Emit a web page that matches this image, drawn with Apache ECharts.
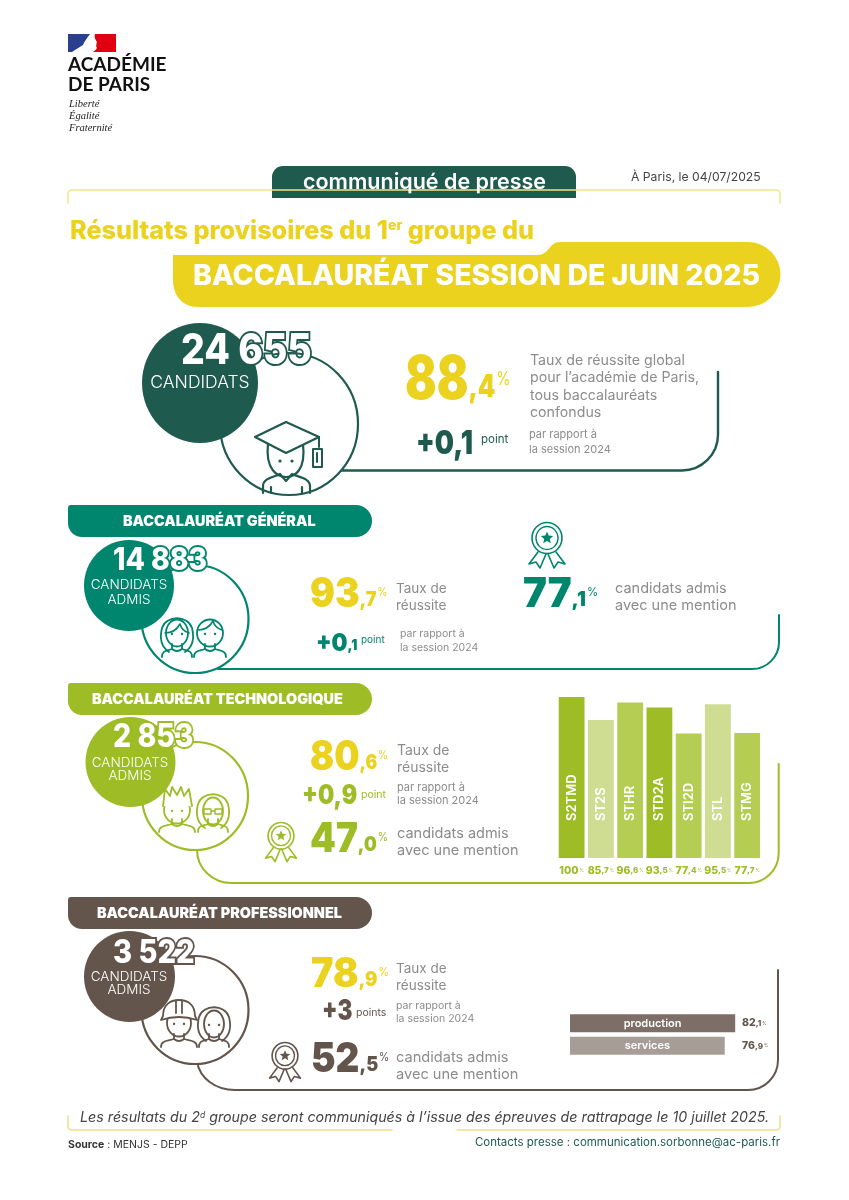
<!DOCTYPE html>
<html>
<head>
<meta charset="utf-8">
<title>Baccalauréat session de juin 2025</title>
<script src="https://cdn.jsdelivr.net/npm/echarts@6/dist/echarts.min.js"></script>
<style>
  html, body { margin: 0; padding: 0; background: #fff; }
  #main { width: 849px; height: 1200px; }
</style>
</head>
<body>
<div id="main"></div>
<script>
// series technologiques
var techNames = ['S2TMD', 'ST2S', 'STHR', 'STD2A', 'STI2D', 'STL', 'STMG'];
var techRates = [100, 85.7, 96.6, 93.5, 77.4, 95.5, 77.7];
var techColors = ['#9dbc25', '#cfdd92', '#b5cd52', '#9dbc25', '#b5cd52', '#cfdd92', '#b5cd52'];
// voie professionnelle
var proNames = ['production', 'services'];
var proRates = [82.1, 76.9];
var proColors = ['#7d6f67', '#a79d97'];
// chiffres cles
var totalCandidats = '24 655', totalRate = ['88', ',4'], totalDiff = '+0,1';
var genCandidats = '14 883', genRate = ['93', ',7'], genDiff = ['+0', ',1'], genMention = ['77', ',1'];
var techCandidats = '2 853', techRate = ['80', ',6'], techDiff = '+0,9', techMention = ['47', ',0'];
var proCandidats = '3 522', proRate = ['78', ',9'], proDiff = '+3', proMention = ['52', ',5'];

var DARK = '#1f5a4e', TEAL = '#00856f', LIME = '#9dbc25', BROWN = '#63554c', YELLOW = '#ebd21f', GREY = '#8c8c8c';
var FONT = 'Inter', LOGO = 'Lato';

var els = [];
var pathCount = 0;

function T(x, y, text, size, color, weight, o) {
    o = o || {};
    var el = {
        type: 'text', x: x, y: y, z: o.z || 10,
        style: {
            text: text, fontFamily: o.font || FONT, fontSize: size, fontWeight: weight || 400,
            fontStyle: o.italic ? 'italic' : 'normal', fill: color,
            align: o.align || 'left', verticalAlign: 'middle',
            stroke: o.stroke, lineWidth: o.lw || 0, rich: o.rich
        }
    };
    if (o.sx) { el.scaleX = o.sx; }
    els.push(el);
}

// svg path -> graphic element
function P(d, stroke, lw, fill, z) {
    var name = 'p' + (pathCount++);
    echarts.graphic.registerShape(name, echarts.graphic.extendPath(d, {}));
    els.push({
        type: name, z: z || 5,
        style: { fill: fill || 'none', stroke: stroke || 'none', lineWidth: lw || 0, lineCap: 'round', lineJoin: 'round' }
    });
}

function E(cx, cy, rx, ry, fill, stroke, lw, z) {
    els.push({
        type: 'ellipse', z: z || 2, shape: { cx: cx, cy: cy, rx: rx, ry: ry },
        style: { fill: fill || 'none', stroke: stroke || 'none', lineWidth: lw || 0 }
    });
}

function R(x, y, w, h, r, fill, z) {
    els.push({ type: 'rect', z: z || 3, shape: { x: x, y: y, width: w, height: h, r: r }, style: { fill: fill } });
}

// grand pourcentage : entier, decimale, signe
function rate(x, y, parts, size, color, ds, sx) {
    T(x, y, '{i|' + parts[0] + '}{d|' + parts[1] + '}{p|%}', size, color, 900, {
        sx: sx,
        rich: {
            i: { fontFamily: FONT, fontSize: size, fontWeight: 900, color: color },
            d: { fontFamily: FONT, fontSize: ds, fontWeight: 900, color: color, padding: [0, 1, (size - ds) * 0.27, 0], verticalAlign: 'bottom' },
            p: { fontFamily: FONT, fontSize: ds * 0.58, fontWeight: 400, color: color, verticalAlign: 'middle', padding: [0, 0, 4, 0] }
        }
    });
}

function star(cx, cy, r) {
    var d = '';
    for (var i = 0; i < 10; i++) {
        var a = -Math.PI / 2 + i * Math.PI / 5, q = i % 2 ? r * 0.45 : r;
        d += (i ? 'L' : 'M') + (cx + q * Math.cos(a)).toFixed(1) + ' ' + (cy + q * Math.sin(a)).toFixed(1);
    }
    return d + 'Z';
}

function ribbon(cx, top, s, color) {
    var cy = top + 16 * s;
    E(cx, cy, 15 * s, 15.5 * s, null, color, 1.6, 5);
    E(cx, cy, 11 * s, 11.5 * s, null, color, 1.4, 5);
    P(star(cx, cy, 6.5 * s), null, 0, color);
    var x = function (v) { return cx + v * s; }, y = function (v) { return top + v * s; };
    P('M' + x(-9) + ' ' + y(30) + 'L' + x(-18) + ' ' + y(42) + 'L' + x(-11) + ' ' + y(40) + 'L' + x(-7) + ' ' + y(46) + 'L' + x(-1) + ' ' + y(32)
        + 'M' + x(9) + ' ' + y(30) + 'L' + x(18) + ' ' + y(42) + 'L' + x(11) + ' ' + y(40) + 'L' + x(7) + ' ' + y(46) + 'L' + x(1) + ' ' + y(32), color, 1.6);
}

// buste commun a tous les personnages
function bust(cx, top, color, w) {
    var y = top + 27, b = top + 40;
    P('M' + (cx - 5) + ' ' + y + 'V' + (y + 5) + 'C' + (cx - 10) + ' ' + (y + 7) + ' ' + (cx - w) + ' ' + (y + 6) + ' ' + (cx - w) + ' ' + b
        + 'M' + (cx + 5) + ' ' + y + 'V' + (y + 5) + 'C' + (cx + 10) + ' ' + (y + 7) + ' ' + (cx + w) + ' ' + (y + 6) + ' ' + (cx + w) + ' ' + b
        + 'M' + (cx - 5) + ' ' + (y + 5) + 'Q' + cx + ' ' + (y + 9) + ' ' + (cx + 5) + ' ' + (y + 5), color, 1.8);
}

function face(cx, top, color, rx, eyes) {
    E(cx, top + 16, rx, 13.5, null, color, 1.8, 5);
    if (eyes) {
        E(cx - 5, top + 17, 1.2, 1.2, color, null, 0, 5);
        E(cx + 5, top + 17, 1.2, 1.2, color, null, 0, 5);
    }
}

function longHair(cx, top, color) {
    P('M' + (cx - 8) + ' ' + (top + 34) + 'C' + (cx - 17) + ' ' + (top + 28) + ' ' + (cx - 17) + ' ' + (top + 18) + ' ' + (cx - 15) + ' ' + (top + 10)
        + 'C' + (cx - 11) + ' ' + (top - 3) + ' ' + (cx + 11) + ' ' + (top - 3) + ' ' + (cx + 15) + ' ' + (top + 10)
        + 'C' + (cx + 17) + ' ' + (top + 18) + ' ' + (cx + 17) + ' ' + (top + 28) + ' ' + (cx + 8) + ' ' + (top + 34), color, 1.8);
}

function P2(cx, top, color) { // frange
    P('M' + (cx - 12) + ' ' + (top + 12) + 'Q' + (cx - 2) + ' ' + (top + 12) + ' ' + (cx + 3) + ' ' + (top + 3) + 'Q' + (cx + 5) + ' ' + (top + 10) + ' ' + (cx + 12) + ' ' + (top + 12), color, 1.6);
}

function frame(d, color, lw) { P(d, color, lw, null, 1); }

function header(y, text, color, x) {
    R(68, y, 304, 32, [3, 16, 16, 14], color);
    T(x, y + 16.5, text, 14.4, '#fff', 900);
}

function bubble(cx, cy, rx, ry, ocx, ocy, orx, ory, color, num, numX, numY, numSize, sx) {
    E(cx, cy, rx, ry, color, null, 0, 3);
    E(ocx, ocy, orx, ory, '#fff', color, 2.2, 2);
    T(numX, numY, num, numSize, '#fff', 800, { stroke: color, lw: 4, z: 12, sx: sx });
}

function small(x, y, lines, size, gap, color) {
    lines.forEach(function (l, i) { T(x, y + i * gap, l, size, color || GREY, 400); });
}

// ---- entete
P('M68 34H90C87 38 84 42 83 45C80 47 76 49 72 52H68Z', null, 0, '#2a3f8f');
P('M95 34H116V52H93C96 50 98 48 96 46C97 44 96 43 97 42C95 39 94 37 95 34Z', null, 0, '#e1000f');
T(68, 65, 'ACADÉMIE', 19, '#111', 700, { font: LOGO });
T(68, 85, 'DE PARIS', 19, '#111', 700, { font: LOGO });
['Liberté', 'Égalité', 'Fraternité'].forEach(function (l, i) {
    T(69, 104 + i * 12, l, 10.5, '#222', 400, { font: 'Liberation Serif', italic: true });
});
P('M68 203V194Q68 190 72 190H776Q780 190 780 194V203', '#f3e48f', 1.5);
R(272, 166, 304, 32, [11, 11, 0, 0], DARK);
T(303, 182.5, 'communiqué de presse', 21.5, '#fff', 600);
T(631, 177, 'À Paris, le 04/07/2025', 12.2, '#444', 400);
T(70, 231, 'Résultats provisoires du 1{s|er} groupe du', 25.2, YELLOW, 800, {
    rich: { s: { fontFamily: FONT, fontSize: 14, fontWeight: 800, color: YELLOW, verticalAlign: 'top' } }
});
P('M173 255H538C549 255 549 242 560 242H748A32.5 32.5 0 0 1 748 307H198C182 307 173 295 173 280Z', null, 0, YELLOW);
T(193, 276, 'BACCALAURÉAT SESSION DE JUIN 2025', 28.5, '#fff', 800);

// ---- ensemble
frame('M341 470.5H682A36 36 0 0 0 718 434.5V372', DARK, 2.4);
bubble(200, 383, 58, 60, 289, 424, 69, 71, DARK, totalCandidats, 181, 351, 42, 0.89);
T(200, 383, 'CANDIDATS', 17.5, '#fff', 300, { align: 'center', z: 13 });
P('M255 437L286 422L319 437L286 453Z', DARK, 2.2, '#fff', 6);
P('M268 444C265 470 278 477 286 477C295 477 306 470 303 444', DARK, 2.2);
P('M319 437V447M313 449H322V467H313ZM317 453V462', DARK, 2);
E(280, 461, 1.6, 1.6, DARK, null, 0, 6);
E(292, 461, 1.6, 1.6, DARK, null, 0, 6);
P('M263 493V486C263 478 275 477 280 474L286 481L292 474C298 477 310 478 310 486V493M271 493V487M302 493V487', DARK, 2.2);
rate(405, 381, totalRate, 60, YELLOW, 32, 0.78);
small(530, 360.5, ['Taux de réussite global', 'pour l\u2019académie de Paris,', 'tous baccalauréats', 'confondus'], 14.2, 17.4);
T(416, 444, totalDiff, 33, DARK, 900, { sx: 0.82 });
T(481, 440, 'point', 11.5, DARK, 400);
small(529, 434.5, ['par rapport à', 'la session 2024'], 11, 15);

// ---- general
header(505, 'BACCALAURÉAT GÉNÉRAL', TEAL, 123);
frame('M218 669H752A27 27 0 0 0 779 642V615', TEAL, 2);
bubble(129, 585.5, 45, 45.5, 195, 619, 53.5, 54, TEAL, genCandidats, 113, 561, 31, 0.91);
T(129, 585, 'CANDIDATS', 13.5, '#fff', 300, { align: 'center', z: 13 });
T(129, 600, 'ADMIS', 13.5, '#fff', 300, { align: 'center', z: 13 });
longHair(177, 618, TEAL); face(177, 617, TEAL, 11, true); bust(177, 617, TEAL, 15);
P2(177, 621, TEAL);
face(210, 617, TEAL, 13, true); bust(210, 617, TEAL, 16); P2(210, 618, TEAL);
rate(310, 595, genRate, 41, YELLOW, 20, 0.9);
small(396, 588.5, ['Taux de', 'réussite'], 13.5, 17);
ribbon(547, 522, 1, TEAL);
rate(523, 595, genMention, 41, TEAL, 20, 0.98);
small(615, 588.5, ['candidats admis', 'avec une mention'], 14.5, 17);
T(316, 643, '{i|' + genDiff[0] + '}{d|' + genDiff[1] + '}', 25, TEAL, 900, {
    sx: 0.9,
    rich: {
        i: { fontFamily: FONT, fontSize: 25, fontWeight: 900, color: TEAL },
        d: { fontFamily: FONT, fontSize: 15, fontWeight: 900, color: TEAL, verticalAlign: 'bottom', padding: [0, 0, 3, 0] }
    }
});
T(361, 640, 'point', 10, TEAL, 400);
small(400, 633.5, ['par rapport à', 'la session 2024'], 10.5, 14);

// ---- technologique
header(683, 'BACCALAURÉAT TECHNOLOGIQUE', LIME, 92);
frame('M197 850C197 868 212 883 232 883H748A30 30 0 0 0 778.7 853V764', LIME, 2);
bubble(130.5, 762, 45, 45, 195, 796, 53, 54, LIME, techCandidats, 113, 737, 32, 0.89);
T(130, 763, 'CANDIDATS', 13.5, '#fff', 300, { align: 'center', z: 13 });
T(130, 776, 'ADMIS', 13.5, '#fff', 300, { align: 'center', z: 13 });
P('M163 806L165 789L170 796L172 787L177 795L181 787L184 796L189 789L192 806', LIME, 1.8, '#fff', 6);
face(177, 794, LIME, 13, true); bust(177, 792, LIME, 18);
longHair(213, 794, LIME); face(213, 795, LIME, 10, false); bust(213, 792, LIME, 15);
P('M204 809H211V814H204ZM215 809H222V814H215ZM211 811H215', LIME, 1.4);
rate(310, 758, techRate, 41, YELLOW, 20, 0.87);
small(397, 750.5, ['Taux de', 'réussite'], 14, 17);
T(302, 796, techDiff, 27, LIME, 900, { sx: 0.85 });
T(361, 795, 'point', 10.5, LIME, 400);
small(397, 787.5, ['par rapport à', 'la session 2024'], 11, 13.5);
ribbon(281, 822, 0.86, LIME);
rate(310, 840, techMention, 41, LIME, 20, 0.9);
small(397, 833.5, ['candidats admis', 'avec une mention'], 14.5, 17);

// ---- professionnel
header(897, 'BACCALAURÉAT PROFESSIONNEL', BROWN, 97);
frame('M197 1062C200 1078 215 1090 235 1090H748A30 30 0 0 0 778 1060V970', BROWN, 2);
bubble(129.5, 976.5, 45.5, 45.5, 195, 1010, 53.5, 54, BROWN, proCandidats, 113, 953, 32, 0.91);
T(129, 977, 'CANDIDATS', 13.5, '#fff', 300, { align: 'center', z: 13 });
T(129, 990, 'ADMIS', 13.5, '#fff', 300, { align: 'center', z: 13 });
face(179, 1007, BROWN, 12, true); bust(179, 1007, BROWN, 18);
P('M161 1020Q179 1014 197 1020L195 1016C195 1005 188 1000 179 1000C170 1000 163 1005 163 1016ZM176 1000V1013M182 1000V1013', BROWN, 1.8, '#fff', 6);
longHair(214, 1007, BROWN); face(214, 1008, BROWN, 10, true); bust(214, 1007, BROWN, 15);
rate(311, 975, proRate, 41, YELLOW, 20, 0.92);
small(396, 968.5, ['Taux de', 'réussite'], 13.5, 17);
T(322, 1012, proDiff, 28, BROWN, 900, { sx: 0.8 });
T(356, 1013, 'points', 10.5, BROWN, 400);
small(396, 1005.5, ['par rapport à', 'la session 2024'], 10.5, 13.5);
ribbon(285, 1042, 0.86, BROWN);
rate(311, 1060, proMention, 41, BROWN, 20, 0.9);
small(396, 1057.5, ['candidats admis', 'avec une mention'], 14.6, 17);

// ---- pied de page
P('M68 1116V1126Q68 1130 72 1130H392M457 1130H776Q780 1130 780 1126V1116', '#efe08a', 1.5);
T(80, 1118, 'Les résultats du 2{s|d} groupe seront communiqués à l\u2019issue des épreuves de rattrapage le 10 juillet 2025.', 14.25, '#444', 400, {
    italic: true,
    rich: { s: { fontFamily: FONT, fontSize: 8.5, fontStyle: 'italic', color: '#444', verticalAlign: 'top' } }
});
T(68, 1145, '{b|Source} : MENJS - DEPP', 10.5, '#333', 400, {
    rich: { b: { fontFamily: FONT, fontSize: 10.5, fontWeight: 700, color: '#222' } }
});
T(780, 1143, 'Contacts presse : communication.sorbonne@ac-paris.fr', 11.5, DARK, 400, { align: 'right' });

// libelle du type 85,7 %
function splitRate(v) {
    var s = String(v).split('.');
    return '{n|' + s[0] + '}' + (s[1] ? '{d|,' + s[1] + '}' : '') + '{p|%}';
}
function rateRich(color) {
    return {
        n: { fontFamily: FONT, fontSize: 10.5, fontWeight: 800, color: color },
        d: { fontFamily: FONT, fontSize: 8, fontWeight: 800, color: color, verticalAlign: 'bottom', padding: [0, 0, 1, 0] },
        p: { fontFamily: FONT, fontSize: 4.5, color: color, verticalAlign: 'middle', padding: [0, 0, 0, 1] }
    };
}

var chart = echarts.init(document.getElementById('main'));
chart.setOption({
    animation: false,
    grid: [
        { left: 557, top: 697, width: 204.8, height: 161 },
        { left: 570, top: 1012, width: 167, height: 45 }
    ],
    xAxis: [
        {
            gridIndex: 0, type: 'category', data: techNames,
            axisLine: { show: false }, axisTick: { show: false },
            axisLabel: {
                interval: 0, margin: 7,
                formatter: function (v, i) { return splitRate(techRates[i]); },
                rich: rateRich(LIME)
            }
        },
        { gridIndex: 1, type: 'value', min: 0, max: 83, show: false }
    ],
    yAxis: [
        { gridIndex: 0, type: 'value', min: 0, max: 100, show: false },
        {
            gridIndex: 1, type: 'category', data: proNames, inverse: true, position: 'right',
            axisLine: { show: false }, axisTick: { show: false },
            axisLabel: {
                margin: 5, align: 'left',
                formatter: function (v, i) { return splitRate(proRates[i]); },
                rich: rateRich(BROWN)
            }
        }
    ],
    series: [
        {
            type: 'bar', xAxisIndex: 0, yAxisIndex: 0, barWidth: 25.8,
            data: techRates.map(function (v, i) { return { value: v, itemStyle: { color: techColors[i] } }; }),
            label: {
                show: true, position: 'insideBottom', distance: 37, rotate: 90, align: 'left', verticalAlign: 'middle',
                formatter: '{b}', color: '#fff', fontFamily: FONT, fontSize: 13, fontWeight: 600
            }
        },
        {
            type: 'bar', xAxisIndex: 1, yAxisIndex: 1, barWidth: 18,
            data: proRates.map(function (v, i) { return { value: v, itemStyle: { color: proColors[i] } }; }),
            label: {
                show: true, position: 'inside', formatter: '{b}', color: '#fff',
                fontFamily: FONT, fontSize: 11, fontWeight: 600
            }
        }
    ],
    graphic: { elements: els }
});
</script>
</body>
</html>
